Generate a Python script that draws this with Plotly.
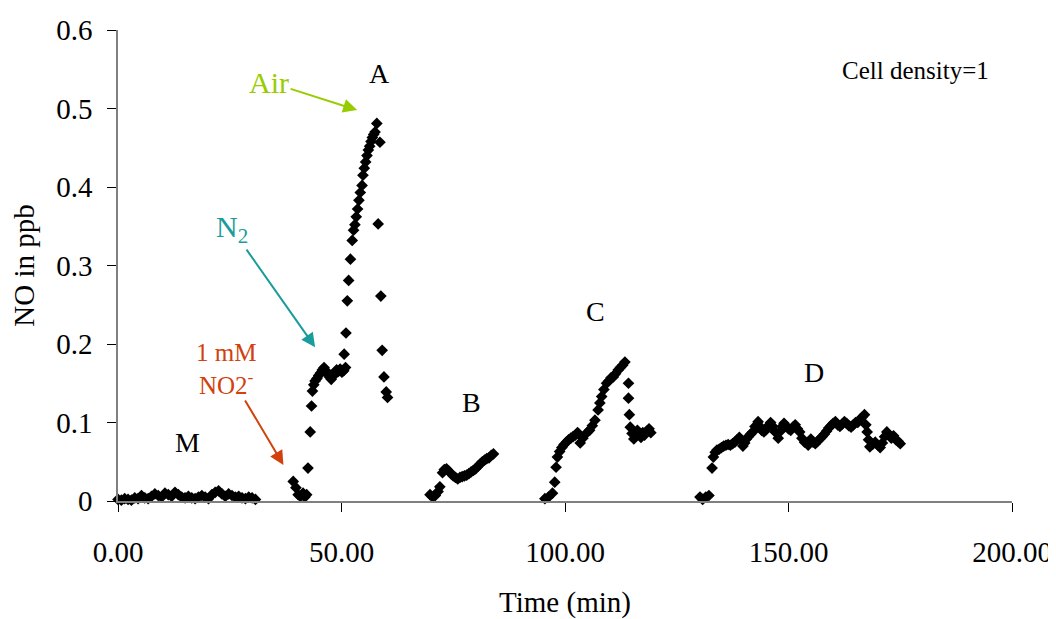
import plotly.graph_objects as go

# ---- data (time in min, NO in ppb) ----
m_t = [0, 0.75, 1.5, 2.25, 3, 3.75, 4.5, 5.25, 6, 6.75, 7.5, 8.25, 9, 9.75, 10.5, 11.25, 12, 12.75,
       13.5, 14.25, 15, 15.75, 16.5, 17.25, 18, 18.75, 19.5, 20.25, 21, 21.75, 22.5, 23.25, 24, 24.75,
       25.5, 26.25, 27, 27.75, 28.5, 29.25, 30, 30.75]
m_v = [0.002, 0.001, 0.003, 0.002, 0.001, 0.004, 0.003, 0.007, 0.004, 0.003, 0.006, 0.009, 0.007, 0.005,
       0.010, 0.008, 0.006, 0.011, 0.008, 0.005, 0.004, 0.006, 0.004, 0.003, 0.005, 0.007, 0.005, 0.003,
       0.008, 0.011, 0.013, 0.009, 0.006, 0.009, 0.007, 0.005, 0.006, 0.004, 0.003, 0.005, 0.004, 0.002]

a_t = [39.2, 39.8, 40.3, 40.8, 41.4, 41.8, 42.2, 42.5, 43.0, 43.3,
       43.5, 43.8, 44.1, 44.5, 44.9, 45.3, 45.7, 46.1, 46.5, 46.9, 47.3, 47.7, 48.1, 48.5, 48.9, 49.3,
       49.7, 50.1, 50.5, 50.9,
       50.6, 51.0, 51.3, 51.6, 52.0, 52.4, 52.7, 53.0, 53.3, 53.6, 53.9, 54.2, 54.6, 54.8, 55.1, 55.4,
       55.7, 56.0, 56.3, 56.6, 56.9, 57.2, 57.5, 57.9,
       58.6, 58.2, 58.8, 59.1, 59.5, 60.0, 60.3]
a_v = [0.025, 0.017, 0.008, 0.006, 0.010, 0.005, 0.008, 0.042, 0.088, 0.121,
       0.140, 0.148, 0.153, 0.156, 0.160, 0.163, 0.167, 0.170, 0.166, 0.162, 0.158, 0.155, 0.159, 0.164,
       0.167, 0.165, 0.168, 0.164, 0.166, 0.170,
       0.187, 0.214, 0.255, 0.281, 0.308, 0.332, 0.345, 0.352, 0.362, 0.372, 0.383, 0.393, 0.402, 0.415,
       0.424, 0.432, 0.440, 0.447, 0.452, 0.458, 0.463, 0.467, 0.470, 0.481,
       0.457, 0.353, 0.261, 0.192, 0.158, 0.139, 0.132]

b_t = [69.8, 70.4, 71.0, 71.6, 72.0, 72.6, 73.0, 73.5, 74.0, 74.5, 75.0, 75.5, 76.0, 76.5, 77.0, 77.5,
       78.0, 78.5, 79.0, 79.5, 80.0, 80.5, 81.0, 81.5, 82.0, 82.5, 83.0, 83.5, 84.0]
b_v = [0.008, 0.005, 0.007, 0.012, 0.018, 0.036, 0.040, 0.041, 0.038, 0.035, 0.032, 0.030, 0.028, 0.030,
       0.031, 0.032, 0.033, 0.035, 0.037, 0.039, 0.041, 0.044, 0.047, 0.050, 0.052, 0.054, 0.055, 0.058,
       0.060]

c_t = [95.5, 96.3, 97.2, 97.7, 98.0, 98.3, 98.8, 99.3, 99.8, 100.3, 100.8, 101.3, 101.8, 102.3, 102.8,
       103.0, 103.4, 104.0, 104.9, 105.5, 106.1, 106.7, 107.4, 107.8, 108.2, 108.7, 109.3, 109.8, 110.3,
       110.8, 111.3, 111.9, 112.4, 112.9, 113.4,
       114.2, 114.2, 114.4, 114.6, 115.0, 115.4, 115.8, 116.2, 116.6, 117.0, 117.4, 117.8, 118.3, 118.8,
       119.2]
c_v = [0.003, 0.005, 0.010, 0.024, 0.043, 0.056, 0.063, 0.068, 0.072, 0.075, 0.078, 0.080, 0.082, 0.084,
       0.087, 0.086, 0.074, 0.080, 0.087, 0.090, 0.096, 0.103, 0.116, 0.125, 0.133, 0.142, 0.150, 0.153,
       0.157, 0.158, 0.162, 0.167, 0.170, 0.173, 0.177,
       0.150, 0.131, 0.110, 0.094, 0.086, 0.079, 0.083, 0.090, 0.085, 0.081, 0.087, 0.084, 0.089, 0.092,
       0.087]

d_t = [130.2, 130.8, 131.5, 132.2, 132.9, 133.2, 133.6, 134.0, 134.5, 135.0, 135.5, 136.0, 136.5, 137.0,
       137.5, 138.0, 138.5, 139.0, 139.5, 139.8, 140.2, 140.6, 141.0, 141.5, 142.0, 142.5, 143.2, 143.6,
       144.0, 144.5, 145.0, 145.5, 146.0, 146.5, 147.0, 147.7, 148.2, 148.6, 149.0, 149.5, 150.0, 150.5,
       151.0, 151.5, 152.0, 152.5, 153.0, 153.6, 154.4, 155.0, 155.5, 156.0, 156.5, 157.0, 157.5, 158.0,
       158.5, 159.0, 159.5, 160.0, 160.5, 161.0, 161.5, 162.0, 162.5, 163.0, 163.5, 164.0, 164.5, 165.0,
       165.5, 166.0, 166.5, 167.0, 167.3, 167.6, 167.9, 168.2, 168.8, 169.4, 170.0, 170.5, 171.0, 171.5,
       172.0, 172.5, 173.0, 173.5, 174.0, 174.5, 175.0]
d_v = [0.005, 0.002, 0.005, 0.007, 0.042, 0.056, 0.062, 0.065, 0.066, 0.068, 0.070, 0.071, 0.072, 0.071,
       0.073, 0.075, 0.078, 0.081, 0.078, 0.070, 0.074, 0.079, 0.082, 0.085, 0.088, 0.095, 0.101, 0.095,
       0.090, 0.088, 0.091, 0.096, 0.100, 0.095, 0.088, 0.080, 0.089, 0.095, 0.099, 0.095, 0.092, 0.090,
       0.094, 0.097, 0.092, 0.088, 0.080, 0.075, 0.071, 0.079, 0.075, 0.073, 0.076, 0.079, 0.082, 0.085,
       0.089, 0.093, 0.096, 0.099, 0.101, 0.097, 0.095, 0.098, 0.101, 0.099, 0.096, 0.094, 0.097, 0.100,
       0.100, 0.104, 0.107, 0.110, 0.097, 0.088, 0.078, 0.069, 0.072, 0.075, 0.071, 0.068, 0.074, 0.082,
       0.088, 0.084, 0.080, 0.083, 0.078, 0.076, 0.073]

x_ticks = [0, 50, 100, 150, 200]
x_tick_labels = ["0.00", "50.00", "100.00", "150.00", "200.00"]
y_ticks = [0, 0.1, 0.2, 0.3, 0.4, 0.5, 0.6]
y_tick_labels = ["0", "0.1", "0.2", "0.3", "0.4", "0.5", "0.6"]

FONT = "Liberation Serif, Times New Roman, serif"
GREEN = "#99CC00"
TEAL = "#1A9C9C"
RED = "#D2400C"

fig = go.Figure()
for t, v in [(m_t, m_v), (a_t, a_v), (b_t, b_v), (c_t, c_v), (d_t, d_v)]:
    fig.add_trace(go.Scatter(x=t, y=v, mode="markers", cliponaxis=False,
                             marker=dict(symbol="diamond", size=9, color="black",
                                         line=dict(width=0))))

annotations = []
# peak letters
for txt, x, y in [("M", 15.5, 0.075), ("A", 58.4, 0.545), ("B", 79.0, 0.125),
                  ("C", 106.9, 0.241), ("D", 155.7, 0.164)]:
    annotations.append(dict(x=x, y=y, text=txt, showarrow=False,
                            font=dict(family=FONT, size=28, color="black")))
annotations.append(dict(x=178.3, y=0.549, text="Cell density=1", showarrow=False,
                        font=dict(family=FONT, size=25, color="black")))
# labelled arrows (text sits at the arrow tail, offsets in pixels)
annotations.append(dict(x=53.5, y=0.498, ax=-88, ay=-28, text="Air", showarrow=True,
                        arrowhead=2, arrowsize=1.4, arrowwidth=2, arrowcolor=GREEN,
                        font=dict(family=FONT, size=30, color=GREEN)))
annotations.append(dict(x=44.1, y=0.196, ax=-83, ay=-118, text="N<sub>2</sub>", showarrow=True,
                        arrowhead=2, arrowsize=1.4, arrowwidth=2, arrowcolor=TEAL,
                        font=dict(family=FONT, size=30, color=TEAL)))
annotations.append(dict(x=37.0, y=0.046, ax=-57, ay=-96, text="1 mM<br>NO2<sup>-</sup>",
                        showarrow=True, standoff=0,
                        arrowhead=2, arrowsize=1.4, arrowwidth=2, arrowcolor=RED,
                        font=dict(family=FONT, size=25, color=RED)))

fig.update_layout(
    width=1048, height=611,
    margin=dict(l=110, r=44, t=22, b=118),
    paper_bgcolor="white", plot_bgcolor="white",
    showlegend=False,
    font=dict(family=FONT, size=29, color="black"),
    annotations=annotations,
    xaxis=dict(range=[0, 200], tickvals=x_ticks, ticktext=x_tick_labels, automargin=False,
               ticklabeloverflow="allow",
               showgrid=False, zeroline=False, showline=True, linecolor="#808080", linewidth=1.5,
               ticks="outside", ticklen=9, tickcolor="black", tickwidth=1,
               ticklabelstandoff=15,
               title=dict(text="Time (min)", standoff=33, font=dict(size=29))),
    yaxis=dict(range=[0, 0.6], tickvals=y_ticks, ticktext=y_tick_labels, automargin=False,
               ticklabeloverflow="allow",
               showgrid=False, zeroline=False, showline=True, linecolor="#808080", linewidth=1.5,
               ticks="outside", ticklen=9, tickcolor="black", tickwidth=1,
               ticklabelstandoff=9,
               title=dict(text="NO in ppb", standoff=14, font=dict(size=29))),
)

fig.write_html("out.html")
